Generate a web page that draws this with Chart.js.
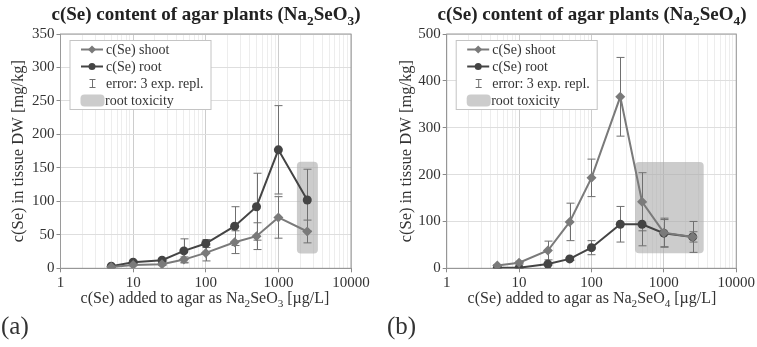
<!DOCTYPE html>
<html>
<head>
<meta charset="utf-8">
<script src="https://cdn.jsdelivr.net/npm/chart.js@4.4.1/dist/chart.umd.min.js"></script>
<style>
    body { margin: 0; background: #fff; font-family: 'Liberation Serif', serif; color: #333; }
    #wrap { position: relative; width: 757px; height: 347px; overflow: hidden; }
    canvas { position: absolute; top: 0; }
    .title { position: absolute; top: 3px; font-size: 19px; font-weight: bold; color: #222; white-space: nowrap; transform: translateX(-50%); line-height: 22px; }
    .xlabel { position: absolute; top: 288px; font-size: 16px; color: #333; white-space: nowrap; transform: translateX(-50%); line-height: 20px; }
    .panel { position: absolute; top: 311px; font-size: 25px; color: #333; line-height: 30px; }
    sub { font-size: 70%; line-height: 0; }
</style>
</head>
<body>
<div id="wrap">
    <canvas id="chartA" width="378" height="347" style="left:0"></canvas>
    <canvas id="chartB" width="379" height="347" style="left:378px"></canvas>
    <div class="title" style="left:206px">c(Se) content of agar plants (Na<sub>2</sub>SeO<sub>3</sub>)</div>
    <div class="title" style="left:592px">c(Se) content of agar plants (Na<sub>2</sub>SeO<sub>4</sub>)</div>
    <div class="xlabel" style="left:205px">c(Se) added to agar as Na<sub>2</sub>SeO<sub>3</sub> [µg/L]</div>
    <div class="xlabel" style="left:592px">c(Se) added to agar as Na<sub>2</sub>SeO<sub>4</sub> [µg/L]</div>
    <div class="panel" style="left:1px">(a)</div>
    <div class="panel" style="left:387px">(b)</div>
</div>
<script>
// selenium added to the agar [µg/L]
const conc = [5, 10, 25, 50, 100, 250, 500, 1000, 2500]
const xTicks = [1, 10, 100, 1000, 10000]

// Na2SeO3 series [mg/kg], errors from 3 replicates
const shootSeO3 = [2, 5, 6, 13, 23, 39, 48, 76, 55]
const shootSeO3Err = [1, 1, 2, 4, 12, 17, 20, 31, 17]
const rootSeO3 = [3, 9, 12, 26, 37, 63, 92, 177, 102]
const rootSeO3Err = [1, 2, 2, 18, 6, 29, 50, 66, 46]
const toxSeO3 = [1800, 3500, 22, 159] // conc from, conc to, c(Se) from, c(Se) to

// Na2SeO4 series
const shootSeO4 = [6, 12, 38, 99, 193, 366, 142, 76, 67]
const shootSeO4Err = [2, 3, 20, 40, 40, 84, 62, 31, 11]
const rootSeO4 = [1, 1, 9, 20, 44, 94, 94, 75, 67]
const rootSeO4Err = [0.5, 0.5, 2, 3, 15, 38, 46, 29, 33]
const toxSeO4 = [400, 3550, 32, 227]

const SHOOT_COLOR = '#7a7a7a'
const ROOT_COLOR = '#444444'
const ERR_COLOR = '#6f6f6f'
const BOX_COLOR = 'rgba(170, 170, 170, 0.6)'
const FONT = "'Liberation Serif', serif"

// every 1..9 step of each decade, labels only on the decades
let logTicks = []
for (let d = 1; d < 10000; d *= 10) {
    for (let k = 1; k < 10; k++) logTicks.push(d * k)
}
logTicks.push(10000)

function roundRect(ctx, x, y, w, h, r) {
    ctx.beginPath()
    ctx.moveTo(x + r, y)
    ctx.arcTo(x + w, y, x + w, y + h, r)
    ctx.arcTo(x + w, y + h, x, y + h, r)
    ctx.arcTo(x, y + h, x, y, r)
    ctx.arcTo(x, y, x + w, y, r)
    ctx.closePath()
}

// shaded "root toxicity" range and the error bars, behind the lines
const backdropPlugin = {
    id: 'backdrop',
    beforeDatasetsDraw(chart) {
        const ctx = chart.ctx
        const xs = chart.scales.x, ys = chart.scales.y
        const area = chart.chartArea
        const tox = chart.options.toxRange

        ctx.save()
        // frame around the plot
        ctx.strokeStyle = '#9a9a9a'
        ctx.lineWidth = 1
        ctx.strokeRect(area.left, area.top, area.right - area.left, area.bottom - area.top)

        let x1 = xs.getPixelForValue(tox[0]), x2 = xs.getPixelForValue(tox[1])
        let y1 = ys.getPixelForValue(tox[3]), y2 = ys.getPixelForValue(tox[2])
        ctx.fillStyle = BOX_COLOR
        roundRect(ctx, x1, y1, x2 - x1, y2 - y1, 4)
        ctx.fill()

        ctx.strokeStyle = ERR_COLOR
        ctx.lineWidth = 1
        chart.data.datasets.forEach((ds, i) => {
            let meta = chart.getDatasetMeta(i)
            ds.errors.forEach((e, j) => {
                let px = Math.round(meta.data[j].x) + 0.5
                let top = ys.getPixelForValue(ds.data[j].y + e)
                let bot = ys.getPixelForValue(Math.max(ds.data[j].y - e, 0))
                ctx.beginPath()
                ctx.moveTo(px, top)
                ctx.lineTo(px, bot)
                ctx.moveTo(px - 4, top)
                ctx.lineTo(px + 4, top)
                ctx.moveTo(px - 4, bot)
                ctx.lineTo(px + 4, bot)
                ctx.stroke()
            })
        })
        ctx.restore()
    }
}

// legend box in the upper left corner of the plot
const legendPlugin = {
    id: 'boxLegend',
    afterDatasetsDraw(chart) {
        const ctx = chart.ctx
        const area = chart.chartArea
        let bx = area.left + 9.5, by = area.top + 6.5
        let bw = 141, bh = 69

        ctx.save()
        ctx.fillStyle = '#fff'
        ctx.fillRect(bx, by, bw, bh)
        ctx.strokeStyle = '#c4c4c4'
        ctx.lineWidth = 1
        ctx.strokeRect(bx, by, bw, bh)

        let rows = [by + 9, by + 26, by + 43, by + 60]
        let mx = bx + 22
        ctx.font = '14px ' + FONT
        ctx.textBaseline = 'middle'

        // shoot
        ctx.strokeStyle = SHOOT_COLOR
        ctx.fillStyle = SHOOT_COLOR
        ctx.lineWidth = 2
        ctx.beginPath()
        ctx.moveTo(bx + 11, rows[0])
        ctx.lineTo(bx + 33, rows[0])
        ctx.stroke()
        ctx.beginPath()
        ctx.moveTo(mx, rows[0] - 4)
        ctx.lineTo(mx + 4, rows[0])
        ctx.lineTo(mx, rows[0] + 4)
        ctx.lineTo(mx - 4, rows[0])
        ctx.closePath()
        ctx.fill()

        // root
        ctx.strokeStyle = ROOT_COLOR
        ctx.fillStyle = ROOT_COLOR
        ctx.beginPath()
        ctx.moveTo(bx + 11, rows[1])
        ctx.lineTo(bx + 33, rows[1])
        ctx.stroke()
        ctx.beginPath()
        ctx.arc(mx, rows[1], 3.5, 0, Math.PI * 2)
        ctx.fill()

        // error glyph
        ctx.strokeStyle = ERR_COLOR
        ctx.lineWidth = 1
        ctx.beginPath()
        ctx.moveTo(mx + 0.5, rows[2] - 4)
        ctx.lineTo(mx + 0.5, rows[2] + 4)
        ctx.moveTo(mx - 2.5, rows[2] - 4)
        ctx.lineTo(mx + 3.5, rows[2] - 4)
        ctx.moveTo(mx - 2.5, rows[2] + 4)
        ctx.lineTo(mx + 3.5, rows[2] + 4)
        ctx.stroke()

        // toxicity swatch
        ctx.fillStyle = BOX_COLOR
        roundRect(ctx, bx + 10.5, rows[3] - 6, 24, 12, 4)
        ctx.fill()

        ctx.fillStyle = '#333'
        let labels = ['c(Se) shoot', 'c(Se) root', 'error: 3 exp. repl.', 'root toxicity']
        let tx = [bx + 36, bx + 36, bx + 36, bx + 35]
        labels.forEach((t, i) => ctx.fillText(t, tx[i], rows[i] + 1))
        ctx.restore()
    }
}

function draw_chart(id, shoot, shootErr, root, rootErr, tox, yMax, yStep, padLeft, yWidth, padRight) {
    let tickFont = { family: FONT, size: 15 }
    new Chart(document.getElementById(id), {
        type: 'scatter',
        data: {
            datasets: [{
                label: 'c(Se) shoot',
                data: conc.map((c, i) => ({ x: c, y: shoot[i] })),
                errors: shootErr,
                showLine: true,
                borderColor: SHOOT_COLOR,
                backgroundColor: SHOOT_COLOR,
                borderWidth: 2,
                pointStyle: 'rectRot',
                pointRadius: 5,
                pointBorderWidth: 0
            }, {
                label: 'c(Se) root',
                data: conc.map((c, i) => ({ x: c, y: root[i] })),
                errors: rootErr,
                showLine: true,
                borderColor: ROOT_COLOR,
                backgroundColor: ROOT_COLOR,
                borderWidth: 2,
                pointStyle: 'circle',
                pointRadius: 4.5,
                pointBorderWidth: 0
            }]
        },
        options: {
            responsive: false,
            animation: false,
            toxRange: tox,
            layout: { padding: { left: padLeft, right: padRight, top: 34, bottom: 48.7 } },
            plugins: {
                legend: { display: false },
                tooltip: { enabled: false }
            },
            scales: {
                x: {
                    type: 'logarithmic',
                    min: 1,
                    max: 10000,
                    afterBuildTicks: s => { s.ticks = logTicks.map(v => ({ value: v })) },
                    afterFit: s => { s.height = 30 },
                    ticks: {
                        autoSkip: false,
                        maxRotation: 0,
                        padding: 2,
                        font: tickFont,
                        color: '#333',
                        callback: v => xTicks.includes(v) ? String(v) : ''
                    },
                    grid: {
                        color: c => (c.tick && xTicks.includes(c.tick.value)) ? '#cdcdcd' : '#ededed',
                        tickColor: c => (c.tick && xTicks.includes(c.tick.value)) ? '#8a8a8a' : 'rgba(0,0,0,0)',
                        tickLength: 4
                    },
                    border: { color: '#8a8a8a' }
                },
                y: {
                    min: 0,
                    max: yMax,
                    afterFit: s => { s.width = yWidth },
                    ticks: { stepSize: yStep, padding: 2, font: tickFont, color: '#333' },
                    grid: { color: '#dedede', tickColor: '#8a8a8a', tickLength: 4 },
                    border: { color: '#8a8a8a' },
                    title: {
                        display: true,
                        text: 'c(Se) in tissue DW [mg/kg]',
                        font: { family: FONT, size: 16.5 },
                        color: '#333',
                        padding: 0
                    }
                }
            }
        },
        plugins: [backdropPlugin, legendPlugin]
    })
}

draw_chart('chartA', shootSeO3, shootSeO3Err, rootSeO3, rootSeO3Err, toxSeO3, 350, 50, 9, 51.5, 27)
draw_chart('chartB', shootSeO4, shootSeO4Err, rootSeO4, rootSeO4Err, toxSeO4, 500, 100, 19, 49.7, 20.3)
</script>
</body>
</html>
